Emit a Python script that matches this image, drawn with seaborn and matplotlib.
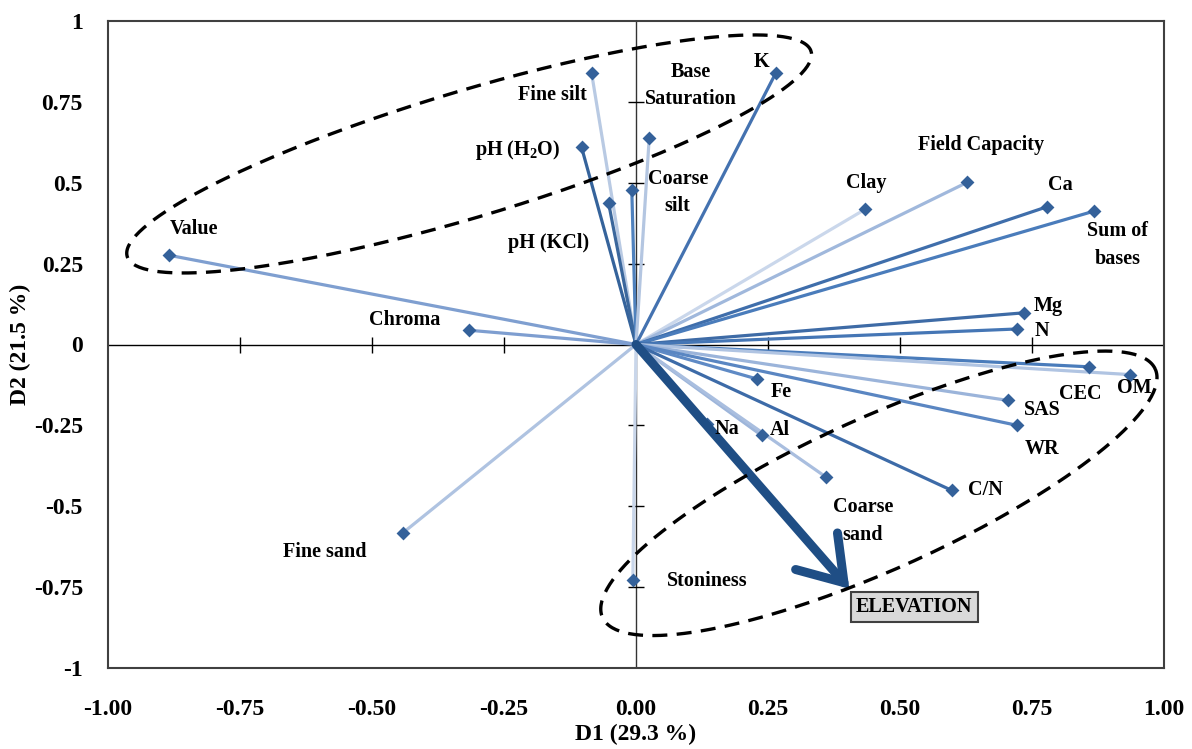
import numpy as np
import pandas as pd
import matplotlib.pyplot as plt
from matplotlib.patches import FancyArrowPatch
import seaborn as sns

# PCA loadings (D1, D2)
variables = ['Value', 'Chroma', 'Fine silt', 'pH (H2O)', 'pH (KCl)', 'Coarse silt',
             'Base Saturation', 'K', 'Clay', 'Field Capacity', 'Ca', 'Sum of bases',
             'Mg', 'N', 'CEC', 'OM', 'Fe', 'SAS', 'WR', 'Na', 'Al', 'Coarse sand',
             'C/N', 'Stoniness', 'Fine sand']
d1 = [-0.885, -0.316, -0.084, -0.103, -0.052, -0.008, 0.025, 0.265, 0.434, 0.627,
      0.779, 0.867, 0.735, 0.722, 0.858, 0.935, 0.230, 0.705, 0.722, 0.135, 0.238,
      0.360, 0.598, -0.006, -0.442]
d2 = [0.276, 0.044, 0.838, 0.609, 0.438, 0.479, 0.637, 0.840, 0.418, 0.501,
      0.426, 0.412, 0.098, 0.048, -0.069, -0.093, -0.107, -0.173, -0.250, -0.245,
      -0.281, -0.410, -0.451, -0.727, -0.583]

# supplementary variable
elev_name = 'ELEVATION'
elev_d1, elev_d2 = 0.404, -0.755

xticks = [-1.0, -0.75, -0.5, -0.25, 0.0, 0.25, 0.5, 0.75, 1.0]
yticks = [1.0, 0.75, 0.5, 0.25, 0.0, -0.25, -0.5, -0.75, -1.0]
xticklabels = ['-1.00', '-0.75', '-0.50', '-0.25', '0.00', '0.25', '0.50', '0.75', '1.00']
yticklabels = ['1', '0.75', '0.5', '0.25', '0', '-0.25', '-0.5', '-0.75', '-1']

# display text for each variable
display = {'pH (H2O)': r'pH (H$_2$O)', 'Base Saturation': 'Base\nSaturation',
           'Coarse silt': 'Coarse\nsilt', 'Sum of bases': 'Sum of\nbases',
           'Coarse sand': 'Coarse\nsand'}

# line colours (shades of blue)
line_colors = {
    'Value': '#7F9FD0', 'Chroma': '#7E9ED0', 'Fine silt': '#B9CAE3', 'pH (H2O)': '#35639B',
    'pH (KCl)': '#3B679C', 'Coarse silt': '#4F81BD', 'Base Saturation': '#B4C6E1',
    'K': '#4472B0', 'Clay': '#CAD7EB', 'Field Capacity': '#A0B8DC', 'Ca': '#3F6EAB',
    'Sum of bases': '#4A7CBB', 'Mg': '#3E6BA6', 'N': '#4576B5', 'CEC': '#4A7CBB',
    'OM': '#B0C4E2', 'Fe': '#5F8AC5', 'SAS': '#9BB4DA', 'WR': '#5A86C2', 'Na': '#5F8AC5',
    'Al': '#9DB5DA', 'Coarse sand': '#A9BEDF', 'C/N': '#3D6BA8', 'Stoniness': '#C9D6EA',
    'Fine sand': '#AFC3E1'}

# label offsets from the point, in pixels (right, up)
label_offsets = {
    'Value': (25, 26), 'Chroma': (-64, 10), 'Fine silt': (-39, -22), 'pH (H2O)': (-64, -3),
    'pH (KCl)': (-60, -40), 'Coarse silt': (46, -3), 'Base Saturation': (42, 53),
    'K': (-14, 11), 'Clay': (1, 26), 'Field Capacity': (14, 37), 'Ca': (13, 22),
    'Sum of bases': (24, -34), 'Mg': (24, 7), 'N': (25, -2), 'CEC': (-9, -27),
    'OM': (5, -13), 'Fe': (24, -13), 'SAS': (34, -10), 'WR': (25, -24), 'Na': (20, -5),
    'Al': (18, 5), 'Coarse sand': (37, -44), 'C/N': (34, 0), 'Stoniness': (74, -1),
    'Fine sand': (-78, -19)}

# one row for the origin and one for the tip of each vector
seg = pd.DataFrame({
    'var': variables * 2,
    'D1': [0.0] * len(variables) + d1,
    'D2': [0.0] * len(variables) + d2,
})
pts = pd.DataFrame({'var': variables, 'D1': d1, 'D2': d2})

sns.set_theme(style='white')
plt.rcParams['font.family'] = ['Liberation Serif', 'DejaVu Serif']
plt.rcParams['font.weight'] = 'bold'
plt.rcParams['mathtext.fontset'] = 'custom'
plt.rcParams['mathtext.rm'] = 'Liberation Serif:bold'
plt.rcParams['mathtext.it'] = 'Liberation Serif:bold'
plt.rcParams['mathtext.bf'] = 'Liberation Serif:bold'

fig = plt.figure(figsize=(11.92, 7.49), dpi=100)
ax = fig.add_axes([108 / 1192, 81 / 749, 1056 / 1192, 647 / 749])

# centre axes with small crossing ticks
ax.axhline(0, color='black', lw=1, zorder=1)
ax.axvline(0, color='#333333', lw=1, zorder=1)
inner_x = [t for t in xticks if abs(t) not in (0.0, 1.0)]
inner_y = [t for t in yticks if abs(t) not in (0.0, 1.0)]
ax.plot(inner_x, [0] * len(inner_x), ls='none', marker='|', ms=12, mew=1, color='black', zorder=1)
ax.plot([0] * len(inner_y), inner_y, ls='none', marker='_', ms=12, mew=1, color='black', zorder=1)

sns.lineplot(data=seg, x='D1', y='D2', hue='var', palette=line_colors, sort=False,
             estimator=None, legend=False, lw=2.3, ax=ax, zorder=2)
sns.scatterplot(data=pts, x='D1', y='D2', marker='D', s=50, color='#34619A',
                linewidth=0, legend=False, ax=ax, zorder=3)

for name, x, y in zip(variables, d1, d2):
    ax.annotate(display.get(name, name), (x, y), xytext=label_offsets[name],
                textcoords='offset pixels', ha='center', va='center',
                fontsize=14.5, fontweight='bold', color='black', linespacing=1.5, zorder=5)

# elevation arrow
arrow = FancyArrowPatch((0, 0), (elev_d1, elev_d2),
                        arrowstyle='->,head_length=1.5,head_width=1.0',
                        mutation_scale=20, lw=6.5, color='#1F4E85',
                        shrinkA=0, shrinkB=0, capstyle='round', joinstyle='miter', zorder=4)
ax.add_patch(arrow)
ax.annotate(elev_name, (elev_d1, elev_d2), xytext=(65, -18), textcoords='offset pixels',
            ha='center', va='center', fontsize=14.5, fontweight='bold', color='black',
            bbox=dict(boxstyle='square,pad=0.25', fc='#D9D9D9', ec='#404040', lw=1.5), zorder=6)

ax.set_xlim(-1, 1)
ax.set_ylim(-1, 1)

# dashed ellipses drawn in pixel space (centre in data, axes in pixels)
px_x = 1056 / 2
px_y = 647 / 2


def dashed_ellipse(cx, cy, a, b, angle):
    t = np.linspace(0, 2 * np.pi, 300)
    th = np.deg2rad(angle)
    ex = a * np.cos(t) * np.cos(th) - b * np.sin(t) * np.sin(th)
    ey = a * np.cos(t) * np.sin(th) + b * np.sin(t) * np.cos(th)
    ax.plot(cx + ex / px_x, cy + ey / px_y, color='black', lw=2.4, ls=(0, (4.5, 2.8)), zorder=4)


dashed_ellipse(-0.316, 0.589, 357, 63, 16.7)
dashed_ellipse(0.46, -0.46, 303, 76, 24.2)

ax.set_xticks(xticks)
ax.set_xticklabels(xticklabels)
ax.set_yticks(yticks)
ax.set_yticklabels(yticklabels)
ax.tick_params(axis='both', length=0, labelsize=17, colors='black')
ax.tick_params(axis='x', pad=22)
ax.tick_params(axis='y', pad=18)
for lab in ax.get_xticklabels() + ax.get_yticklabels():
    lab.set_fontweight('bold')

ax.set_xlabel('D1 (29.3 %)', fontsize=17, fontweight='bold', color='black')
ax.set_ylabel('D2 (21.5 %)', fontsize=17, fontweight='bold', color='black')
ax.xaxis.set_label_coords(0.5, -0.087)
ax.yaxis.set_label_coords(-0.073, 0.5)

for sp in ax.spines.values():
    sp.set_visible(True)
    sp.set_color('#404040')
    sp.set_linewidth(1.5)
ax.grid(False)

fig.savefig('out.png', dpi=100, facecolor='white')
